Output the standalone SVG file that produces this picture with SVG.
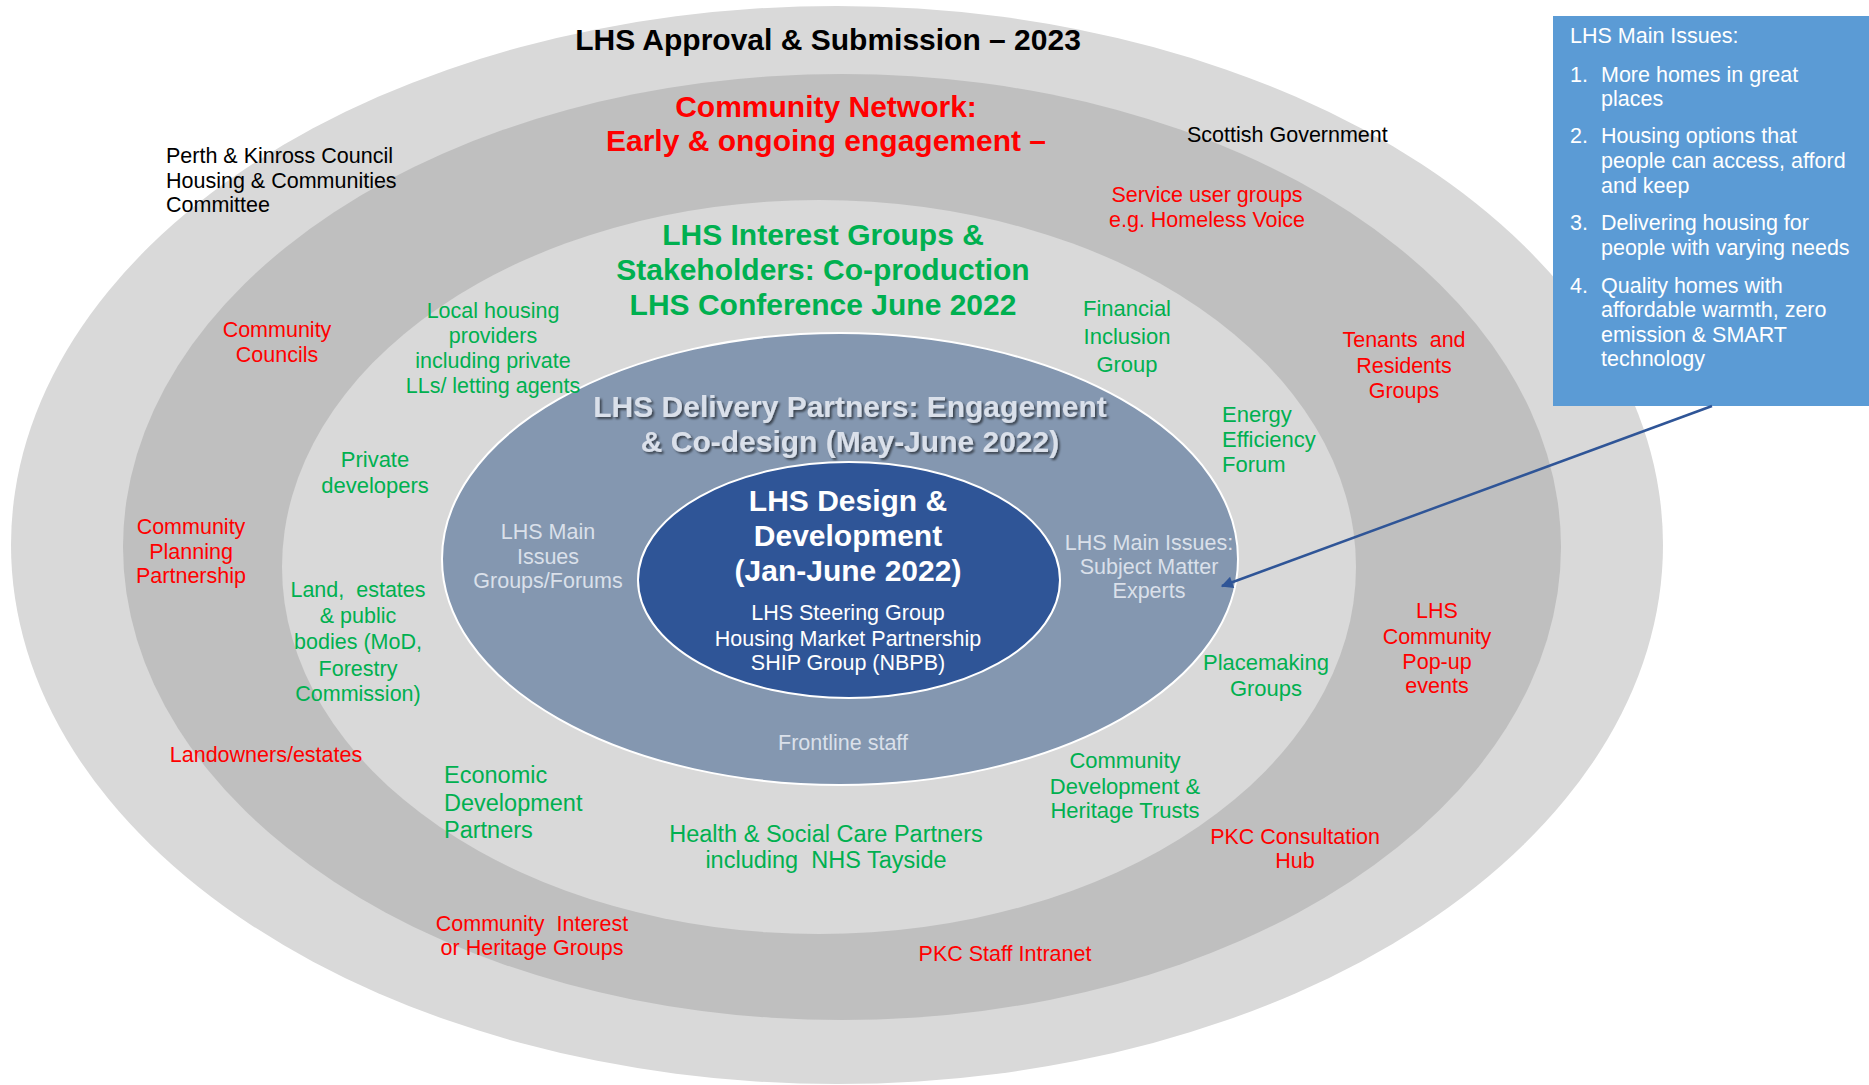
<svg xmlns="http://www.w3.org/2000/svg" width="1869" height="1085" viewBox="0 0 1869 1085">
<defs>
<style>
text{font-family:"Liberation Sans",Arial,sans-serif}
.s{font-size:21.5px}
.g{font-size:22px}
.m{font-size:23.5px}
.b{font-size:30px;font-weight:bold}
.c{text-anchor:middle}
.pre{white-space:pre}
.red{fill:#ff0000}
.grn{fill:#00b050}
.blk{fill:#000000}
.wht{fill:#ffffff}
.pale{fill:#dae0ea}
</style>
<filter id="shadow" x="-10%" y="-30%" width="120%" height="160%">
<feDropShadow dx="2" dy="2" stdDeviation="1.2" flood-color="#000000" flood-opacity="0.55"/>
</filter>
<marker id="arrow" viewBox="0 0 10 10" refX="9" refY="5" markerWidth="14" markerHeight="12" markerUnits="userSpaceOnUse" orient="auto">
<path d="M0,0 L10,5 L0,10 Z" fill="#2f5597"/>
</marker>
</defs>
<rect width="1869" height="1085" fill="#ffffff"/>

<g id="ring-approval">
<ellipse cx="837" cy="545" rx="826" ry="539" fill="#d9d9d9"/>
<text class="b c blk" x="828" y="50">LHS Approval &amp; Submission – 2023</text>
</g>

<g id="ring-community-network">
<ellipse cx="842" cy="547" rx="719" ry="473" fill="#bfbfbf"/>
<text class="b c red" x="826" y="117">Community Network:<tspan x="826" y="151">Early &amp; ongoing engagement –</tspan></text>
</g>

<g id="ring-interest-groups">
<ellipse cx="819" cy="567" rx="537" ry="367" fill="#d9d9d9"/>
<text class="b c grn" x="823" y="245">LHS Interest Groups &amp;<tspan x="823" y="280">Stakeholders: Co-production</tspan><tspan x="823" y="315">LHS Conference June 2022</tspan></text>
</g>

<g id="ring-delivery-partners">
<ellipse cx="840" cy="559" rx="398" ry="226" fill="#8497b0" stroke="#ffffff" stroke-width="2"/>
<text class="b c pale" filter="url(#shadow)" x="850" y="417">LHS Delivery Partners: Engagement<tspan x="850" y="452">&amp; Co-design (May-June 2022)</tspan></text>
</g>

<g id="core-design-development">
<ellipse cx="849" cy="580" rx="211" ry="118" fill="#2f5597" stroke="#ffffff" stroke-width="2"/>
<text class="b c wht" x="848" y="511">LHS Design &amp;<tspan x="848" y="546">Development</tspan><tspan x="848" y="581">(Jan-June 2022)</tspan></text>
<text class="s c wht" x="848" y="620">LHS Steering Group<tspan x="848" y="646">Housing Market Partnership</tspan><tspan x="848" y="670">SHIP Group (NBPB)</tspan></text>
</g>

<g id="label-groups-forums">
<text class="s c pale" x="548" y="539">LHS Main<tspan x="548" y="564">Issues</tspan><tspan x="548" y="588">Groups/Forums</tspan></text>
</g>
<g id="label-subject-matter-experts">
<text class="s c pale" x="1149" y="550">LHS Main Issues:<tspan x="1149" y="574">Subject Matter</tspan><tspan x="1149" y="598">Experts</tspan></text>
</g>
<g id="label-frontline-staff">
<text class="s c pale" x="843" y="750">Frontline staff</text>
</g>

<g id="label-pkc-committee">
<text class="s blk" x="166" y="163">Perth &amp; Kinross Council<tspan x="166" y="188">Housing &amp; Communities</tspan><tspan x="166" y="212">Committee</tspan></text>
</g>
<g id="label-scottish-government">
<text class="s blk" x="1187" y="142">Scottish Government</text>
</g>

<g id="label-community-councils">
<text class="s c red" x="277" y="337">Community<tspan x="277" y="362">Councils</tspan></text>
</g>
<g id="label-community-planning">
<text class="s c red" x="191" y="534">Community<tspan x="191" y="559">Planning</tspan><tspan x="191" y="583">Partnership</tspan></text>
</g>
<g id="label-landowners">
<text class="s c red" x="266" y="762">Landowners/estates</text>
</g>
<g id="label-community-interest">
<text class="s c red pre" x="532" y="931">Community  Interest<tspan x="532" y="955">or Heritage Groups</tspan></text>
</g>
<g id="label-staff-intranet">
<text class="s c red" x="1005" y="961">PKC Staff Intranet</text>
</g>
<g id="label-consultation-hub">
<text class="s c red" x="1295" y="844">PKC Consultation<tspan x="1295" y="868">Hub</tspan></text>
</g>
<g id="label-popup-events">
<text class="s c red" x="1437" y="618">LHS<tspan x="1437" y="644">Community</tspan><tspan x="1437" y="669">Pop-up</tspan><tspan x="1437" y="693">events</tspan></text>
</g>
<g id="label-tenants">
<text class="s c red pre" x="1404" y="347">Tenants  and<tspan x="1404" y="373">Residents</tspan><tspan x="1404" y="398">Groups</tspan></text>
</g>
<g id="label-service-user">
<text class="s c red" x="1207" y="202">Service user groups<tspan x="1207" y="227">e.g. Homeless Voice</tspan></text>
</g>

<g id="label-local-housing">
<text class="s c grn" x="493" y="318">Local housing<tspan x="493" y="343">providers</tspan><tspan x="493" y="368">including private</tspan><tspan x="493" y="393">LLs/ letting agents</tspan></text>
</g>
<g id="label-private-developers">
<text class="g c grn" x="375" y="467">Private<tspan x="375" y="493">developers</tspan></text>
</g>
<g id="label-land-estates">
<text class="s c grn pre" x="358" y="597">Land,  estates<tspan x="358" y="623">&amp; public</tspan><tspan x="358" y="649">bodies (MoD,</tspan><tspan x="358" y="676">Forestry</tspan><tspan x="358" y="701">Commission)</tspan></text>
</g>
<g id="label-economic-development">
<text class="m grn" x="444" y="783">Economic<tspan x="444" y="811">Development</tspan><tspan x="444" y="838">Partners</tspan></text>
</g>
<g id="label-health-social-care">
<text class="m c grn pre" x="826" y="842">Health &amp; Social Care Partners<tspan x="826" y="868">including  NHS Tayside</tspan></text>
</g>
<g id="label-community-development">
<text class="g c grn" x="1125" y="768">Community<tspan x="1125" y="794">Development &amp;</tspan><tspan x="1125" y="818">Heritage Trusts</tspan></text>
</g>
<g id="label-placemaking">
<text class="g c grn" x="1266" y="670">Placemaking<tspan x="1266" y="696">Groups</tspan></text>
</g>
<g id="label-energy-efficiency">
<text class="g grn" x="1222" y="422">Energy<tspan x="1222" y="447">Efficiency</tspan><tspan x="1222" y="472">Forum</tspan></text>
</g>
<g id="label-financial-inclusion">
<text class="g c grn" x="1127" y="316">Financial<tspan x="1127" y="344">Inclusion</tspan><tspan x="1127" y="372">Group</tspan></text>
</g>

<g id="box-main-issues">
<rect x="1553" y="16" width="316" height="390" fill="#5b9bd5"/>
<text class="s wht" x="1570" y="43">LHS Main Issues:</text>
<text class="s wht" x="1570" y="82">1.<tspan x="1601">More homes in great</tspan><tspan x="1601" y="106">places</tspan></text>
<text class="s wht" x="1570" y="143">2.<tspan x="1601">Housing options that</tspan><tspan x="1601" y="168">people can access, afford</tspan><tspan x="1601" y="193">and keep</tspan></text>
<text class="s wht" x="1570" y="230">3.<tspan x="1601">Delivering housing for</tspan><tspan x="1601" y="255">people with varying needs</tspan></text>
<text class="s wht" x="1570" y="293">4.<tspan x="1601">Quality homes with</tspan><tspan x="1601" y="317">affordable warmth, zero</tspan><tspan x="1601" y="342">emission &amp; SMART</tspan><tspan x="1601" y="366">technology</tspan></text>
</g>

<g id="connectors">
<line x1="1712" y1="406" x2="1222" y2="586" stroke="#2f5597" stroke-width="2.5" marker-end="url(#arrow)"/>
</g>
</svg>
